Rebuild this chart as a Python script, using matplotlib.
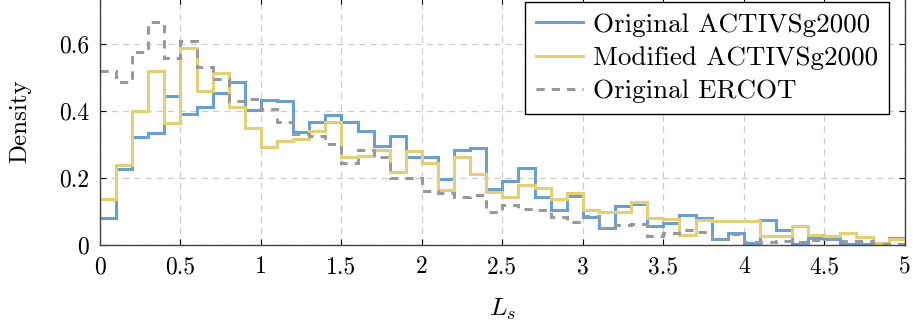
import numpy as np
import matplotlib
matplotlib.use('Agg')
import matplotlib.pyplot as plt

plt.rcParams['font.family'] = 'serif'
plt.rcParams['font.serif'] = ['cmr10']
plt.rcParams['mathtext.fontset'] = 'cm'
plt.rcParams['axes.formatter.use_mathtext'] = True

# histogram bins of width 0.1 on [0, 5]
edges = np.round(np.arange(0, 5.01, 0.1), 2)

orig_activ = [0.081, 0.228, 0.322, 0.334, 0.445, 0.391, 0.411, 0.455, 0.487, 0.404,
              0.433, 0.431, 0.336, 0.366, 0.388, 0.366, 0.339, 0.296, 0.326, 0.262,
              0.262, 0.198, 0.284, 0.289, 0.166, 0.191, 0.229, 0.142, 0.105, 0.146,
              0.083, 0.051, 0.117, 0.122, 0.058, 0.066, 0.091, 0.082, 0.019, 0.036,
              0.007, 0.074, 0.046, 0.004, 0.022, 0.019, 0.004, 0.004, 0.004, 0.022]

mod_activ = [0.137, 0.239, 0.401, 0.519, 0.365, 0.588, 0.460, 0.512, 0.411, 0.350,
             0.293, 0.310, 0.317, 0.339, 0.366, 0.262, 0.267, 0.284, 0.218, 0.280,
             0.244, 0.164, 0.262, 0.213, 0.158, 0.144, 0.178, 0.171, 0.137, 0.154,
             0.105, 0.099, 0.098, 0.129, 0.080, 0.077, 0.031, 0.074, 0.073, 0.071,
             0.071, 0.026, 0.028, 0.056, 0.031, 0.026, 0.036, 0.025, 0.005, 0.017]

orig_ercot = [0.519, 0.488, 0.576, 0.665, 0.557, 0.608, 0.531, 0.495, 0.431, 0.437,
              0.406, 0.366, 0.331, 0.326, 0.301, 0.244, 0.284, 0.262, 0.200, 0.201,
              0.161, 0.154, 0.144, 0.149, 0.099, 0.119, 0.108, 0.105, 0.083, 0.068,
              0.086, 0.050, 0.061, 0.062, 0.026, 0.037, 0.046, 0.040, 0.019, 0.034,
              0.009, 0.009, 0.012, 0.009, 0.015, 0.019, 0.012, 0.012, 0.004, 0.004]

xticks = [0, 0.5, 1, 1.5, 2, 2.5, 3, 3.5, 4, 4.5, 5]
xticklabels = ['0', '0.5', '1', '1.5', '2', '2.5', '3', '3.5', '4', '4.5', '5']
yticks = [0, 0.2, 0.4, 0.6]
yticklabels = ['0', '0.2', '0.4', '0.6']

fig = plt.figure(figsize=(9.13, 3.25), dpi=100)
ax = fig.add_axes([0.1095, 0.246, 0.8815, 0.76])

lw = 2.2
ax.stairs(orig_activ, edges, baseline=None, color='#6a9fd4', lw=lw,
          label='Original ACTIVSg2000')
ax.stairs(mod_activ, edges, baseline=None, color='#e2cf78', lw=lw,
          label='Modified ACTIVSg2000')
ax.stairs(orig_ercot, edges, baseline=None, color='#999999', lw=lw,
          linestyle=(0, (2.7, 2.3)), label='Original ERCOT')

ax.set_xlim(0, 5)
ax.set_ylim(0, 0.737)
ax.set_xticks(xticks)
ax.set_xticklabels(xticklabels)
ax.set_yticks(yticks)
ax.set_yticklabels(yticklabels)
ax.tick_params(direction='in', top=True, right=True, length=4, labelsize=17, pad=8)
ax.grid(True, color='#cccccc', linestyle=(0, (5, 4)), lw=0.9)
ax.set_axisbelow(True)
for s in ax.spines.values():
    s.set_color('#444444')
    s.set_linewidth(1.0)

ax.set_xlabel('$L_s$', fontsize=18.5, labelpad=13)
ax.set_ylabel('Density', fontsize=18, labelpad=20)

leg = ax.legend(loc='upper right', bbox_to_anchor=(0.98, 0.985), fontsize=19.5,
                frameon=True, fancybox=False, edgecolor='black', framealpha=1,
                borderaxespad=0, handlelength=1.75, handletextpad=0.35,
                borderpad=0.4, labelspacing=0.35)
leg.get_frame().set_linewidth(1.0)

fig.savefig('out.png', dpi=100)
